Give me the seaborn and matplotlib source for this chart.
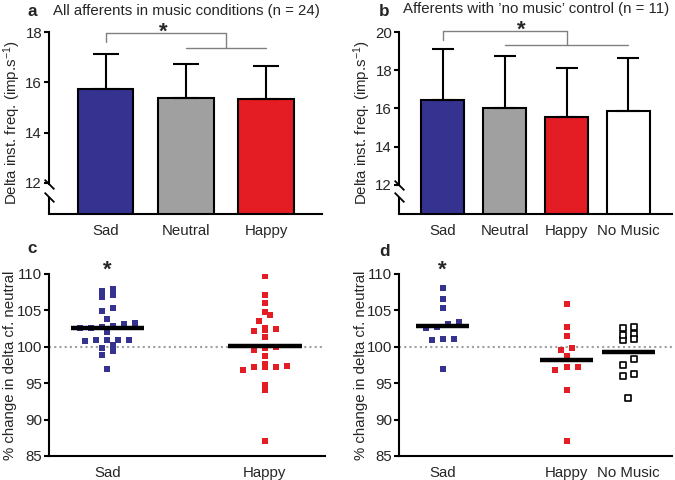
import matplotlib
matplotlib.use('Agg')
import matplotlib.pyplot as plt
import numpy as np
import seaborn as sns

# panel a / b : mean + SEM
cats_a = ['Sad', 'Neutral', 'Happy']
mean_a = [15.75, 15.38, 15.32]
sem_a = [1.37, 1.35, 1.31]

cats_b = ['Sad', 'Neutral', 'Happy', 'No Music']
mean_b = [16.42, 16.02, 15.55, 15.86]
sem_b = [2.71, 2.70, 2.57, 2.78]

# panel c / d : individual afferents, % change cf. neutral
c_sad = [108.0, 107.1, 106.9, 107.7, 104.9, 105.3, 103.3, 102.8, 102.6, 102.6, 102.7, 103.2,
         103.8, 102.1, 101.0, 100.9, 100.3, 100.8, 100.9, 101.0, 99.4, 98.9, 99.9, 97.0]
c_happy = [109.7, 107.1, 106.0, 104.8, 104.3, 103.6, 102.6, 102.3, 102.2, 102.5, 101.4, 100.0,
           99.6, 99.8, 98.7, 97.3, 97.2, 96.8, 97.2, 97.2, 97.7, 94.8, 94.0, 87.0]
d_sad = [108.1, 106.6, 105.3, 103.2, 102.6, 102.7, 103.4, 101.1, 100.9, 101.1, 97.0]
d_happy = [105.9, 102.7, 101.5, 99.5, 99.8, 98.7, 97.2, 96.8, 97.2, 94.1, 87.0]
d_nomusic = [102.6, 102.7, 101.8, 101.1, 100.9, 101.6, 98.3, 97.5, 96.2, 96.0, 93.0]

title_a = 'All afferents in music conditions (n = 24)'
title_b = 'Afferents with \u2019no music\u2019 control (n = 11)'
ylab_bar = 'Delta inst. freq. (imp.s$^{-1}$)'
ylab_pct = '% change in delta cf. neutral'

colors = {'Sad': '#35338f', 'Neutral': '#a0a0a0', 'Happy': '#e31d23', 'No Music': '#ffffff'}

sns.set_style('ticks')
plt.rcParams['font.family'] = ['Liberation Sans', 'DejaVu Sans']
plt.rcParams['mathtext.default'] = 'regular'
FS = 10.8

fig = plt.figure(figsize=(6.75, 4.8), dpi=100)
W, H = 675, 480


def px_axes(x0, x1, y0, y1):
    return fig.add_axes([x0 / W, 1 - y1 / H, (x1 - x0) / W, (y1 - y0) / H])


ax_a = px_axes(49, 322, 32, 214)
ax_b = px_axes(399, 672, 32, 214)
ax_c = px_axes(49, 325, 274, 456)
ax_d = px_axes(399, 672, 274, 456)


def style_axis(ax, labx):
    for s in ['top', 'right']:
        ax.spines[s].set_visible(False)
    for s in ['left', 'bottom']:
        ax.spines[s].set_linewidth(1.5)
        ax.spines[s].set_color('black')
    ax.tick_params(axis='y', length=3.5, width=1.5, pad=1.5, labelsize=FS, color='black')
    ax.tick_params(axis='x', length=0, pad=7, labelsize=FS)
    ax.set_xlabel('')
    ax.yaxis.set_label_coords(labx, 0.5)


def bar_panel(ax, cats, means, sems, ylim, yticks, brk, capsize):
    sns.barplot(x=cats, y=means, hue=cats, order=cats, palette=colors, legend=False,
                saturation=1, width=0.69, edgecolor='black', linewidth=1.5, ax=ax)
    n = len(cats)
    ax.errorbar(np.arange(n), means, yerr=[np.zeros(n), sems], fmt='none', ecolor='black',
                elinewidth=1.5, capsize=capsize, capthick=1.5, zorder=3)
    ax.set_ylim(*ylim)
    ax.set_yticks(yticks)
    style_axis(ax, -0.097)
    ax.set_ylabel(ylab_bar, fontsize=FS)
    # broken y axis
    ax.spines['left'].set_bounds(brk[0], ylim[1])
    tr = ax.get_yaxis_transform()
    ax.plot([0, 0], [ylim[0], brk[1]], transform=tr, color='black', lw=1.5,
            solid_capstyle='butt', clip_on=False)
    ax.plot([0, 0], brk, transform=tr, ls='none', marker=[(-1, 1), (1, -1)], ms=7,
            mew=1.3, mec='black', clip_on=False)


bar_panel(ax_a, cats_a, mean_a, sem_a, (10.76, 18), [12, 14, 16, 18], (11.95, 11.43), 9.5)
ax_a.set_xlim(-0.71, 2.70)
bar_panel(ax_b, cats_b, mean_b, sem_b, (10.47, 20), [12, 14, 16, 18, 20], (12.0, 11.36), 8)
ax_b.set_xlim(-0.706, 3.704)


def star(ax, x, y, dy):
    ax.annotate('*', xy=(x, y), xytext=(0, dy), textcoords='offset points', ha='center',
                va='baseline', fontsize=16, fontweight='bold', annotation_clip=False)


# significance brackets
g = '#808080'
for ax, (y_top, y_tick, y_low, x_mid, x_lo, x_hi, x_star, dy) in [
        (ax_a, (17.96, 17.6, 17.36, 1.5, 1, 2, 0.72, -3.5)),
        (ax_b, (20.03, 19.56, 19.34, 2.0, 1, 3, 1.27, -3.0))]:
    kw = dict(color=g, lw=1, clip_on=False)
    ax.plot([0, 0], [y_tick, y_top], **kw)
    ax.plot([0, x_mid], [y_top, y_top], **kw)
    ax.plot([x_mid, x_mid], [y_top, y_low], **kw)
    ax.plot([x_lo, x_hi], [y_low, y_low], **kw)
    star(ax, x_star, y_top, dy)


def row_offsets(vals, step, bin_w=1.0):
    # GraphPad-like scatter: values in the same 1-unit row are spread side by side
    vals = np.asarray(vals)
    keys = np.round(vals / bin_w).astype(int)
    off = np.zeros(len(vals))
    for k in np.unique(keys):
        idx = np.where(keys == k)[0]
        idx = idx[np.argsort(vals[idx])]
        n = len(idx)
        off[idx] = (np.arange(n) - (n - 1) / 2) * step
    return off


def dot_panel(ax, order, groups, step, hw):
    ax.axhline(100, color='#a0a0a0', lw=1.5, ls=(0, (1, 1.5)), zorder=0)
    for name, vals in groups:
        xi = order.index(name)
        xs = xi + row_offsets(vals, step)
        if name == 'No Music':
            sns.scatterplot(x=xs, y=vals, marker='s', s=16, color='white', edgecolor='black',
                            linewidth=1.2, ax=ax, zorder=2)
        else:
            sns.scatterplot(x=xs, y=vals, marker='s', s=15, color=colors[name], linewidth=0,
                            ax=ax, zorder=2)
        ax.hlines(np.mean(vals), xi - hw, xi + hw, color='black', lw=3.2, zorder=4)
    names = [n for n, _ in groups]
    ax.set_xticks([order.index(n) for n in names])
    ax.set_xticklabels(names)
    ax.set_ylim(85, 110)
    ax.set_yticks([85, 90, 95, 100, 105, 110])
    style_axis(ax, -0.115)
    ax.set_ylabel(ylab_pct, fontsize=FS)
    star(ax, 0, 110, -1)


dot_panel(ax_c, cats_a, [('Sad', c_sad), ('Happy', c_happy)], 0.14, 0.47)
ax_c.set_xlim(-0.744, 2.768)
dot_panel(ax_d, cats_b, [('Sad', d_sad), ('Happy', d_happy), ('No Music', d_nomusic)],
          0.178, 0.43)
ax_d.set_xlim(-0.706, 3.704)

# titles and panel letters
fig.text(186 / W, 1 - 11 / H, title_a, ha='center', va='center', fontsize=FS)
fig.text(536 / W, 1 - 9 / H, title_b, ha='center', va='center', fontsize=FS)
for lab, x, y in [('a', 32, 12), ('b', 384, 11), ('c', 32, 248), ('d', 384, 251)]:
    fig.text(x / W, 1 - y / H, lab, ha='center', va='center', fontsize=FS + 1.5, fontweight='bold')

fig.savefig('out.png', dpi=100)
